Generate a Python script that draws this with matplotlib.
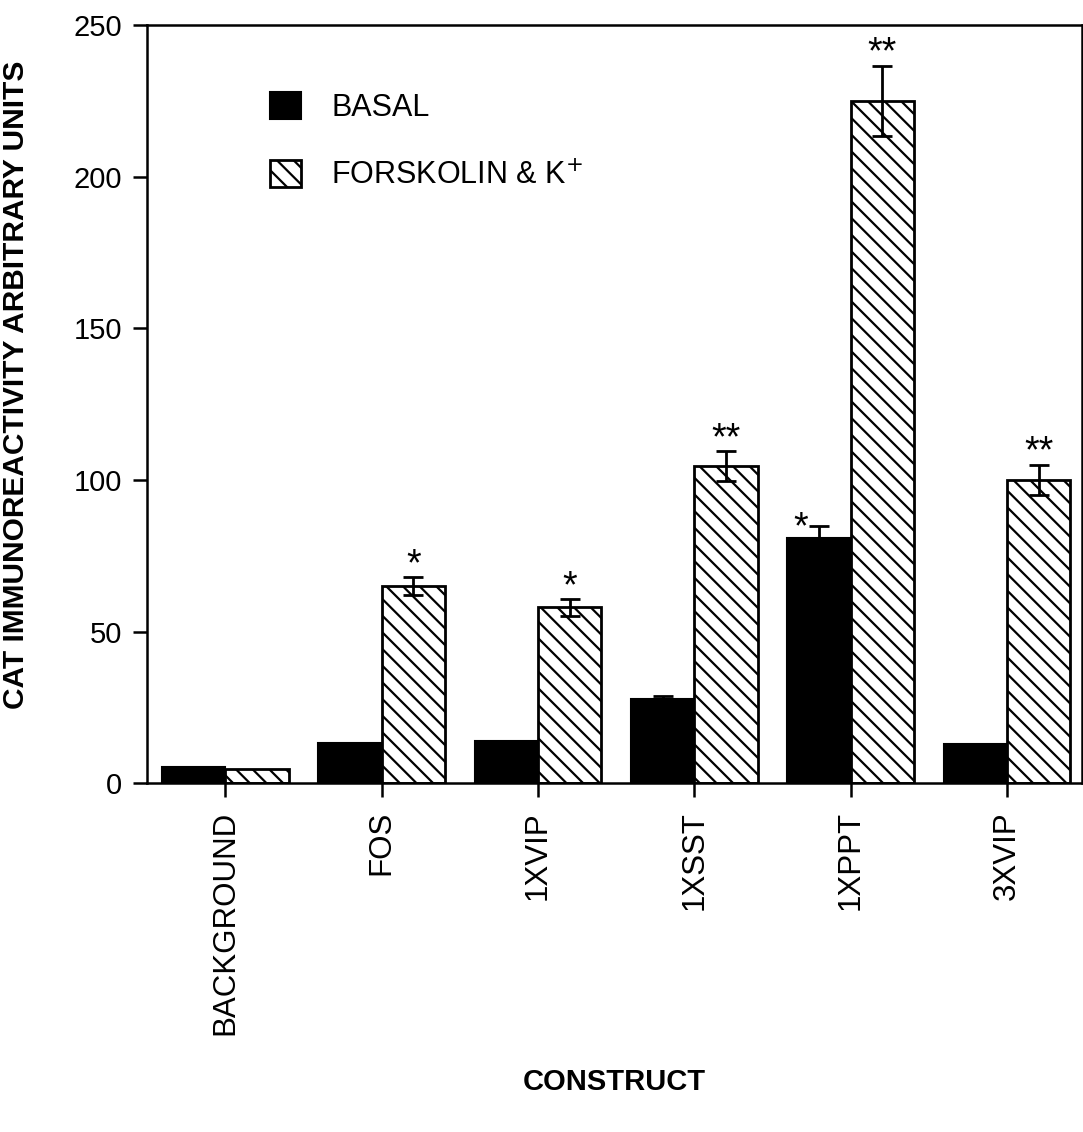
import numpy as np
import matplotlib
matplotlib.use('Agg')
import matplotlib.pyplot as plt

plt.rcParams['font.family'] = ['Liberation Sans', 'DejaVu Sans']
plt.rcParams['hatch.linewidth'] = 1.6

# data
constructs = ['BACKGROUND', 'FOS', '1XVIP', '1XSST', '1XPPT', '3XVIP']
basal = [5.3, 13.2, 13.9, 27.7, 81, 12.9]
basal_err = [0, 0, 0, 1.0, 3.7, 0]
forsk = [4.6, 65, 58, 104.5, 225, 100]
forsk_err = [0, 3.0, 2.7, 5.0, 11.5, 5.0]
basal_stars = ['', '', '', '', '*', '']
forsk_stars = ['', '*', '*', '**', '**', '**']

x = np.arange(len(constructs))
w = 0.405

fig = plt.figure(figsize=(10.83, 11.32), dpi=100)
ax = fig.add_axes([0.136, 0.308, 0.863, 0.670])

ax.bar(x - w / 2, basal, w, color='black', edgecolor='black', linewidth=1.5,
       label='BASAL')
ax.bar(x + w / 2, forsk, w, color='white', edgecolor='black', linewidth=2,
       hatch='\\\\', label='FORSKOLIN & K$^{+}$')

# error bars (only where visible)
for i in range(len(x)):
    if basal_err[i] > 0:
        ax.errorbar(x[i] - w / 2, basal[i], yerr=basal_err[i], fmt='none',
                    ecolor='black', elinewidth=2, capsize=7, capthick=2)
    if forsk_err[i] > 0:
        ax.errorbar(x[i] + w / 2, forsk[i], yerr=forsk_err[i], fmt='none',
                    ecolor='black', elinewidth=2, capsize=7, capthick=2)

for i in range(len(x)):
    if forsk_stars[i]:
        ax.text(x[i] + w / 2, forsk[i] + forsk_err[i] + 4, forsk_stars[i],
                ha='center', va='center', fontsize=27)
    if basal_stars[i]:
        ax.text(x[i] - w / 2 - 0.12, basal[i] + basal_err[i] - 0.5, basal_stars[i],
                ha='center', va='center', fontsize=27)

ax.set_xlim(-0.5, 5.48)
ax.set_ylim(0, 250)
ax.set_yticks([0, 50, 100, 150, 200, 250])
ax.set_xticks(x)
ax.set_xticklabels(constructs, rotation=90)
ax.tick_params(axis='both', direction='out', length=10, width=1.8,
               labelsize=21, pad=8)
ax.tick_params(axis='x', pad=10, labelsize=22.5)
for s in ax.spines.values():
    s.set_linewidth(1.8)

ax.set_ylabel('CAT IMMUNOREACTIVITY ARBITRARY UNITS', fontsize=21.5,
              fontweight='bold', labelpad=18)
ax.yaxis.set_label_coords(-0.125, 0.525)
ax.set_xlabel('CONSTRUCT', fontsize=21, fontweight='bold')
ax.xaxis.set_label_coords(0.5, -0.375)

ax.legend(loc='upper left', bbox_to_anchor=(0.102, 0.948), frameon=False,
          fontsize=22, handlelength=1.0, handleheight=1.0, handletextpad=1.0,
          labelspacing=1.2)

fig.savefig('out.png', dpi=100)
